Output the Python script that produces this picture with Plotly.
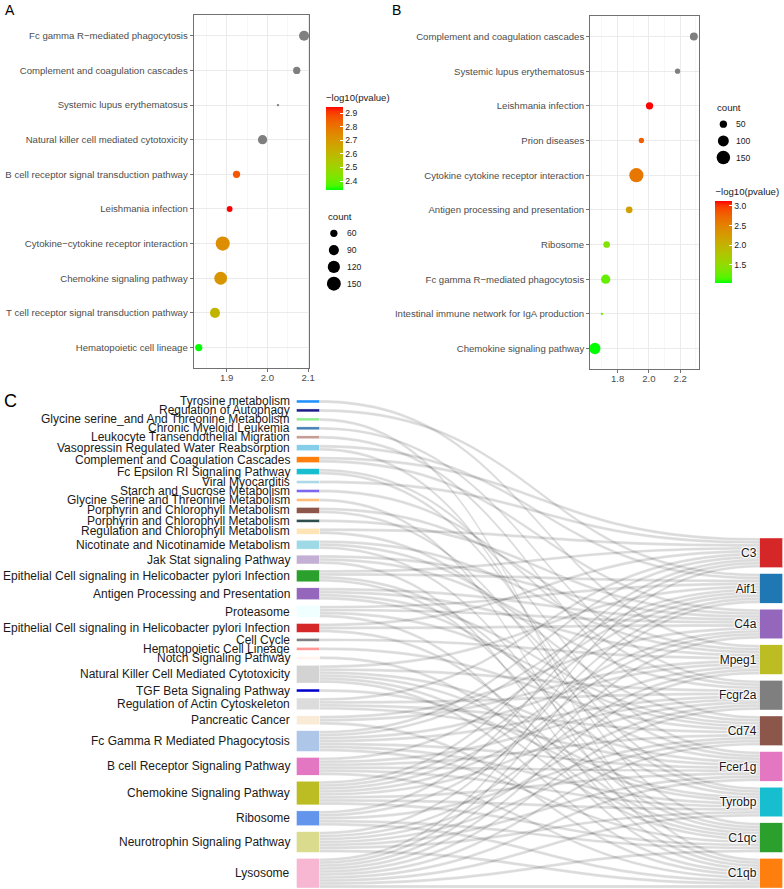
import plotly.graph_objects as go

W, H = 784, 889
FONT = "Liberation Sans, Arial, sans-serif"

# ---------------- Panel A data ----------------
termsA = ["Fc gamma R\u2212mediated phagocytosis", "Complement and coagulation cascades",
          "Systemic lupus erythematosus", "Natural killer cell mediated cytotoxicity",
          "B cell receptor signal transduction pathway", "Leishmania infection",
          "Cytokine\u2212cytokine receptor interaction", "Chemokine signaling pathway",
          "T cell receptor signal transduction pathway", "Hematopoietic cell lineage"]
ratioA = [2.090, 2.072, 2.026, 1.988, 1.924, 1.907, 1.890, 1.885, 1.871, 1.831]
countA = [89, 60, 40, 80, 60, 50, 154, 130, 89, 60]
logpA = [None, None, None, None, 2.86, 2.945, 2.73, 2.71, 2.61, 2.334]
sizeBreaksA = [60, 90, 120, 150]
colorTicksA = [2.4, 2.5, 2.6, 2.7, 2.8, 2.9]

# ---------------- Panel B data ----------------
termsB = ["Complement and coagulation cascades", "Systemic lupus erythematosus",
          "Leishmania infection", "Prion diseases", "Cytokine cytokine receptor interaction",
          "Antigen processing and presentation", "Ribosome",
          "Fc gamma R\u2212mediated phagocytosis", "Intestinal immune network for IgA production",
          "Chemokine signaling pathway"]
ratioB = [2.287, 2.183, 2.004, 1.952, 1.920, 1.874, 1.730, 1.724, 1.700, 1.655]
countB = [57, 34, 50, 34, 165, 44, 44, 74, 25, 106]
logpB = [None, None, 3.127, 2.80, 2.60, 2.20, 1.42, 1.25, 1.30, 1.04]
sizeBreaksB = [50, 100, 150]
colorTicksB = [1.5, 2.0, 2.5, 3.0]

# ---------------- Panel C data ----------------
pathways = ["Tyrosine metabolism", "Regulation of Autophagy",
            "Glycine serine_and And Threonine Metabolism", "Chronic Myeloid Leukemia",
            "Leukocyte Transendothelial Migration", "Vasopressin Regulated Water Reabsorption",
            "Complement and Coagulation Cascades", "Fc Epsilon RI Signaling Pathway",
            "Viral Myocarditis", "Starch and Sucrose Metabolism",
            "Glycine Serine and Threonine Metabolism", "Porphyrin and Chlorophyll Metabolism",
            "Porphyrin and Chlorophyll Metabolism", "Regulation and Chlorophyll Metabolism",
            "Nicotinate and Nicotinamide Metabolism", "Jak Stat signaling Pathway",
            "Epithelial Cell signaling in Helicobacter pylori Infection",
            "Antigen Processing and Presentation", "Proteasome",
            "Epithelial Cell signaling in Helicobacter pylori Infection", "Cell Cycle",
            "Hematopoietic Cell Lineage", "Notch Signaling Pathway",
            "Natural Killer Cell Mediated Cytotoxicity", "TGF Beta Signaling Pathway",
            "Regulation of Actin Cytoskeleton", "Pancreatic Cancer",
            "Fc Gamma R Mediated Phagocytosis", "B cell Receptor Signaling Pathway",
            "Chemokine Signaling Pathway", "Ribosome", "Neurotrophin Signaling Pathway",
            "Lysosome"]
pathway_colors = ["#1E90FF", "#1C1C8A", "#90EE90", "#4682B4", "#C49C94", "#87CEEB",
                  "#FF7F0E", "#17BECF", "#ADD8E6", "#7B68EE", "#FFBB78", "#8C564B",
                  "#2F4F4F", "#FFE4B5", "#9EDAE5", "#C5B0D5", "#2CA02C", "#9467BD",
                  "#F0FFFF", "#D62728", "#7F7F7F", "#FF9896", "#FFF5EE", "#D3D3D3",
                  "#0000CD", "#DCDCDC", "#FAEBD7", "#AEC7E8", "#E377C2", "#BCBD22",
                  "#6495ED", "#DBDB8D", "#F7B6D2"]
genes = ["C3", "Aif1", "C4a", "Mpeg1", "Fcgr2a", "Cd74", "Fcer1g", "Tyrobp", "C1qc", "C1qb"]
gene_colors = ["#D62728", "#1F77B4", "#9467BD", "#BCBD22", "#7F7F7F", "#8C564B",
               "#E377C2", "#17BECF", "#2CA02C", "#FF7F0E"]
pathway_genes = [
    ["Mpeg1"], ["Aif1"], ["C1qb"], ["Fcgr2a"], ["Cd74"], ["Aif1", "C1qc"],
    ["C3", "C4a"], ["Fcer1g", "Tyrobp"], ["C3"], ["Fcgr2a"], ["C1qb"],
    ["Mpeg1", "Tyrobp"], ["C4a"], ["C3", "Fcer1g"], ["Mpeg1", "Cd74", "C1qc"],
    ["C4a", "Fcgr2a", "C1qb"], ["C3", "Aif1", "Tyrobp", "C1qc"],
    ["C4a", "Mpeg1", "Cd74", "Fcer1g"], ["Aif1", "C4a", "Cd74", "C1qb"],
    ["C3", "C4a", "C1qc"], ["Mpeg1"], ["Cd74"], ["C1qc"],
    ["Aif1", "Fcgr2a", "Fcer1g", "Tyrobp", "C1qc", "C1qb"], ["Tyrobp"],
    ["C3", "Fcgr2a", "Cd74", "Fcer1g"], ["C4a", "Mpeg1", "C1qb"],
    ["C3", "Aif1", "Mpeg1", "Fcgr2a", "Fcer1g", "Tyrobp", "C1qc"],
    ["Aif1", "Fcgr2a", "Cd74", "Fcer1g", "Tyrobp", "C1qb"],
    ["C3", "Aif1", "C4a", "Mpeg1", "Fcgr2a", "Fcer1g", "Tyrobp", "C1qc"],
    ["C3", "C4a", "Cd74", "C1qc", "C1qb"],
    ["Aif1", "Mpeg1", "Fcgr2a", "Cd74", "Fcer1g", "Tyrobp", "C1qb"],
    ["C3", "Aif1", "C4a", "Mpeg1", "Fcgr2a", "Cd74", "Fcer1g", "Tyrobp", "C1qc", "C1qb"],
]


# ---------------- helpers ----------------
def px_x(p):
    return p / W


def px_y(p):
    return 1 - p / H


def _lin(c):
    c = c / 255.0
    return c / 12.92 if c <= 0.04045 else ((c + 0.055) / 1.055) ** 2.4


def _gam(c):
    c = max(0.0, min(1.0, c))
    v = 12.92 * c if c <= 0.0031308 else 1.055 * c ** (1 / 2.4) - 0.055
    return int(round(255 * max(0.0, min(1.0, v))))


def rgb2lab(rgb):
    R, G, B = (_lin(v) for v in rgb)
    X = (0.4124 * R + 0.3576 * G + 0.1805 * B) / 0.95047
    Y = 0.2126 * R + 0.7152 * G + 0.0722 * B
    Z = (0.0193 * R + 0.1192 * G + 0.9505 * B) / 1.08883
    f = lambda t: t ** (1 / 3) if t > 0.008856 else 7.787 * t + 16 / 116
    fx, fy, fz = f(X), f(Y), f(Z)
    return 116 * fy - 16, 500 * (fx - fy), 200 * (fy - fz)


def lab2rgb(lab):
    L, a, b = lab
    fy = (L + 16) / 116
    fx = fy + a / 500
    fz = fy - b / 200
    fi = lambda t: t ** 3 if t ** 3 > 0.008856 else (t - 16 / 116) / 7.787
    X, Y, Z = 0.95047 * fi(fx), fi(fy), 1.08883 * fi(fz)
    R = 3.2406 * X - 1.5372 * Y - 0.4986 * Z
    G = -0.9689 * X + 1.8758 * Y + 0.0415 * Z
    B = 0.0557 * X - 0.2040 * Y + 1.0570 * Z
    return _gam(R), _gam(G), _gam(B)


lo, hi = rgb2lab((0, 255, 0)), rgb2lab((255, 0, 0))
NST = 20
colorscale = []
for k in range(NST + 1):
    t = k / NST
    c = lab2rgb(tuple(lo[j] + (hi[j] - lo[j]) * t for j in range(3)))
    colorscale.append([t, "rgb(%d,%d,%d)" % c])


def ggsize(c, cmin, cmax):
    return 2.35 * (1 + 5 * ((c - cmin) / (cmax - cmin)) ** 0.5)


def expand(vals):
    a, b = min(vals), max(vals)
    d = (b - a) * 0.05
    return [a - d, b + d]


fig = go.Figure()

AX_FONT = dict(family=FONT, size=9.6, color="#4D4D4D")
LEG_FONT = dict(family=FONT, size=8.6, color="#1A1A1A")
TTL_FONT = dict(family=FONT, size=9.6, color="#1A1A1A")


def dot_panel(terms, ratio, count, logp, xa, ya, cax):
    cmin, cmax = min(count), max(count)
    na = [i for i, v in enumerate(logp) if v is None]
    ok = [i for i, v in enumerate(logp) if v is not None]
    fig.add_trace(go.Scatter(
        x=[ratio[i] for i in na], y=[terms[i] for i in na], mode="markers",
        marker=dict(color="#7F7F7F", size=[ggsize(count[i], cmin, cmax) for i in na],
                    line=dict(width=0), opacity=1),
        xaxis=xa, yaxis=ya, showlegend=False, hoverinfo="skip"))
    fig.add_trace(go.Scatter(
        x=[ratio[i] for i in ok], y=[terms[i] for i in ok], mode="markers",
        marker=dict(color=[logp[i] for i in ok], coloraxis=cax, opacity=1,
                    size=[ggsize(count[i], cmin, cmax) for i in ok], line=dict(width=0)),
        xaxis=xa, yaxis=ya, showlegend=False, hoverinfo="skip"))


dot_panel(termsA, ratioA, countA, logpA, "x", "y", "coloraxis")
dot_panel(termsB, ratioB, countB, logpB, "x2", "y2", "coloraxis2")

axis_common = dict(showgrid=True, gridcolor="#EBEBEB", gridwidth=1, zeroline=False,
                   showline=True, mirror=True, linecolor="#4D4D4D", linewidth=0.8,
                   ticks="outside", ticklen=3, tickwidth=0.8, tickcolor="#4D4D4D",
                   tickfont=AX_FONT)

fig.update_layout(
    xaxis=dict(domain=[px_x(194.7), px_x(311.3)], range=expand(ratioA), anchor="y",
               tickvals=[1.9, 2.0, 2.1], ticktext=["1.9", "2.0", "2.1"],
               ticklabelstandoff=-3,
               minor=dict(tickvals=[1.85, 1.95, 2.05], showgrid=True, gridcolor="#F2F2F2",
                          gridwidth=0.6), **axis_common),
    yaxis=dict(domain=[px_y(368.3), px_y(15)], type="category", categoryorder="array",
               categoryarray=termsA[::-1], range=[-0.6, len(termsA) - 0.4], anchor="x",
               **axis_common),
    xaxis2=dict(domain=[px_x(593.7), px_x(703.3)], range=expand(ratioB), anchor="y2",
                tickvals=[1.8, 2.0, 2.2], ticktext=["1.8", "2.0", "2.2"],
                ticklabelstandoff=-3,
                minor=dict(tickvals=[1.7, 1.9, 2.1, 2.3], showgrid=True, gridcolor="#F2F2F2",
                           gridwidth=0.6), **axis_common),
    yaxis2=dict(domain=[px_y(369.3), px_y(15.7)], type="category", categoryorder="array",
                categoryarray=termsB[::-1], range=[-0.6, len(termsB) - 0.4], anchor="x2",
                **axis_common),
    xaxis3=dict(domain=[0, 1], range=[0, W], visible=False, anchor="y3", fixedrange=True),
    yaxis3=dict(domain=[0, 1], range=[H, 0], visible=False, anchor="x3", fixedrange=True),
)

TITLE_SPACE = 16


def cbar(x, bar_top, bar_bottom, ticks):
    length = bar_bottom - bar_top + TITLE_SPACE
    yc = bar_bottom - length / 2
    return dict(x=px_x(x), xanchor="left", xpad=0, y=px_y(yc), yanchor="middle", ypad=0,
                len=length, lenmode="pixels", thickness=17, thicknessmode="pixels",
                outlinewidth=0, tickvals=ticks, ticktext=["%.1f" % t for t in ticks],
                ticks="inside", ticklen=3, tickwidth=1, tickcolor="white",
                tickfont=LEG_FONT,
                title=dict(text="\u2212log10(pvalue)", side="top", font=TTL_FONT))


valsA = [v for v in logpA if v is not None]
valsB = [v for v in logpB if v is not None]
fig.update_layout(
    coloraxis=dict(colorscale=colorscale, cmin=min(valsA), cmax=max(valsA),
                   colorbar=cbar(328, 107, 190, colorTicksA)),
    coloraxis2=dict(colorscale=colorscale, cmin=min(valsB), cmax=max(valsB),
                    colorbar=cbar(720, 201, 283, colorTicksB)),
)

annotations = []


def size_legend(breaks, count, x_title, y_title, step):
    cmin, cmax = min(count), max(count)
    ys = [y_title + step * (i + 1) for i in range(len(breaks))]
    fig.add_trace(go.Scatter(
        x=[x_title + 8] * len(breaks), y=ys, mode="markers",
        marker=dict(color="black", opacity=1, size=[ggsize(b, cmin, cmax) for b in breaks],
                    line=dict(width=0)),
        xaxis="x3", yaxis="y3", showlegend=False, hoverinfo="skip"))
    annotations.append(dict(text="count", x=px_x(x_title), y=px_y(y_title), xref="paper",
                            yref="paper", xanchor="left", yanchor="middle", showarrow=False,
                            font=TTL_FONT))
    for b, yy in zip(breaks, ys):
        annotations.append(dict(text=str(b), x=px_x(x_title + 19), y=px_y(yy), xref="paper",
                                yref="paper", xanchor="left", yanchor="middle",
                                showarrow=False, font=LEG_FONT))


size_legend(sizeBreaksA, countA, 328, 216.5, 16.8)
size_legend(sizeBreaksB, countB, 720, 107.5, 16.7)

# ---------------- Sankey ----------------
SK_TOP, SK_BOT = 400.0, 888.0
SK_LEFT, SK_RIGHT = 309.5, 776.5
PAD = 6.0
HSK = SK_BOT - SK_TOP
nP, nG = len(pathways), len(genes)
src, tgt, val = [], [], []
for i, gl in enumerate(pathway_genes):
    for g in gl:
        src.append(i)
        tgt.append(nP + genes.index(g))
        val.append(1)
p_tot = [len(gl) for gl in pathway_genes]
g_tot = [sum(1 for gl in pathway_genes if g in gl) for g in genes]
ky = min((HSK - (nP - 1) * PAD) / sum(p_tot), (HSK - (nG - 1) * PAD) / sum(g_tot))

ys_left, cum = [], 0.0
for v in p_tot:
    h = v * ky
    ys_left.append(cum + h / 2)
    cum += h + PAD
right_total = sum(g_tot) * ky + (nG - 1) * PAD
ys_right, cum = [], HSK - right_total
for v in g_tot:
    h = v * ky
    ys_right.append(cum + h / 2)
    cum += h + PAD

fig.add_trace(go.Sankey(
    domain=dict(x=[px_x(SK_LEFT), px_x(SK_RIGHT)], y=[px_y(SK_BOT), px_y(SK_TOP)]),
    arrangement="fixed",
    node=dict(label=[""] * nP + genes, color=pathway_colors + gene_colors,
              x=[0.001] * nP + [0.999] * nG,
              y=[y / HSK for y in ys_left] + [y / HSK for y in ys_right],
              pad=PAD, thickness=23, line=dict(color="white", width=0.4),
              hoverinfo="skip"),
    link=dict(source=src, target=tgt, value=val, color="rgba(0,0,0,0.14)",
              line=dict(color="rgba(255,255,255,0.7)", width=0.4), hoverinfo="skip"),
    textfont=dict(family=FONT, size=12, color="#1A1A1A"),
))

for name, yc in zip(pathways, ys_left):
    annotations.append(dict(text=name, x=px_x(294), y=px_y(SK_TOP + yc), xref="paper",
                            yref="paper", xanchor="right", yanchor="middle", showarrow=False,
                            font=dict(family=FONT, size=12, color="#1A1A1A")))

# panel letters
for lab, x, y, s in [("A", 3, 0, 14), ("B", 392, 0, 14), ("C", 2, 389, 18)]:
    annotations.append(dict(text=lab, x=px_x(x), y=px_y(y), xref="paper", yref="paper",
                            xanchor="left", yanchor="top", showarrow=False,
                            font=dict(family=FONT, size=s, color="#000000")))

fig.update_layout(
    width=W, height=H, margin=dict(l=0, r=0, t=0, b=0),
    paper_bgcolor="white", plot_bgcolor="rgba(0,0,0,0)",
    annotations=annotations, showlegend=False,
    font=dict(family=FONT),
)

fig.write_html("out.html",
               config={"displayModeBar": False, "staticPlot": True},
               post_script="document.body.style.margin='0px';"
                           "document.body.style.overflow='hidden';")
